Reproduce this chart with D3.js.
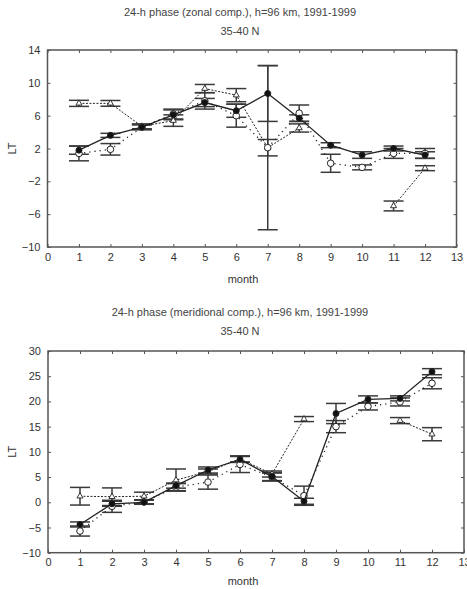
<!DOCTYPE html>
<html>
<head>
<meta charset="utf-8">
<script src="https://cdn.jsdelivr.net/npm/d3@7"></script>
<style>
  body { margin: 0; background: #fff; }
  svg { display: block; font-family: "Liberation Sans", Arial, sans-serif; }
  .tick text { fill: #333; font-size: 11px; }
</style>
</head>
<body>
<div id="container"></div>
<script>
// define constants
const WIDTH = 467;
const HEIGHT = 589;

const months = [1, 2, 3, 4, 5, 6, 7, 8, 9, 10, 11, 12];
const xTicks = [0, 1, 2, 3, 4, 5, 6, 7, 8, 9, 10, 11, 12, 13];

// zonal component
const zonalTicks = [14, 10, 6, 2, -2, -6, -10];
const zonalSolid = [1.8, 3.6, 4.6, 6.1, 7.6, 6.6, 8.7, 5.7, 2.4, 1.2, 2.0, 1.2];
const zonalSolidErr = [0.5, 0.25, 0.3, 0.6, 0.5, 0.8, 3.4, 0.4, 0.3, 0.4, 0.3, 0.4];
const zonalOpen = [1.4, 1.9, 4.6, 6.2, 7.8, 6.0, 2.1, 6.3, 0.2, -0.3, 1.4, 1.4];
const zonalOpenErr = [0.9, 0.7, 0.3, 0.6, 1.0, 1.4, 1.0, 1.0, 1.1, 0.3, 0.6, 0.6];
const zonalTri = [7.5, 7.5, 4.7, 5.4, 9.3, 8.5, 2.1, 4.5, null, null, -5.0, -0.4];
const zonalTriErr = [0.37, 0.35, 0.3, 0.7, 0.5, 0.8, 10, 0.5, null, null, 0.6, 0.3];

// meridional component
const merTicks = [30, 25, 20, 15, 10, 5, 0, -5, -10];
const merSolid = [-4.4, -0.3, 0.0, 3.3, 6.4, 8.5, 5.1, 0.2, 17.6, 20.4, 20.6, 25.9];
const merSolidErr = [0.5, 0.5, 0.4, 0.5, 0.6, 0.6, 0.8, 0.6, 2.0, 0.7, 0.5, 0.6];
const merOpen = [-5.7, -0.8, 0.1, 3.0, 4.0, 7.5, 5.0, 1.3, 15.0, 19.0, 19.9, 23.6];
const merOpenErr = [1.0, 1.2, 0.4, 0.7, 1.4, 1.6, 0.8, 1.9, 1.2, 0.7, 0.8, 1.1];
const merTri = [1.2, 1.1, 1.2, 4.4, 6.1, 8.6, 5.6, 16.5, null, null, 16.2, 13.5];
const merTriErr = [1.75, 1.75, 0.8, 2.2, 0.5, 0.6, 0.6, 0.5, null, null, 0.6, 1.3];

const canvas = d3.select("#container")
    .append("svg")
    .attr("width", WIDTH)
    .attr("height", HEIGHT);

const zip = (vals, errs) => months.map((m, i) => ({ m: m, v: vals[i], e: errs[i] }));

const drawPanel = (p) => {
    const g = canvas.append("g");

    const x = d3.scaleLinear().domain([0, 13]).range([p.left, p.right]);
    const y = d3.scaleLinear().domain([p.yMin, p.yMax]).range([p.bottom, p.top]);

    // titles
    g.append("text").attr("x", 240).attr("y", p.titleY)
        .attr("text-anchor", "middle").attr("font-size", 11).attr("fill", "#444")
        .text(p.title);
    g.append("text").attr("x", 240).attr("y", p.titleY + 19)
        .attr("text-anchor", "middle").attr("font-size", 11).attr("fill", "#444")
        .text("35-40 N");

    // axes with inward ticks
    const axisStyle = (sel) => {
        sel.select(".domain").remove();
        sel.selectAll(".tick line").attr("stroke", "#555");
    };
    g.append("g").attr("transform", "translate(0," + p.bottom + ")")
        .call(d3.axisBottom(x).tickValues(xTicks).tickSize(-3).tickPadding(6).tickFormat(d3.format("d")))
        .call(axisStyle);
    g.append("g").attr("transform", "translate(0," + p.top + ")")
        .call(d3.axisTop(x).tickValues(xTicks).tickSize(-3).tickFormat(""))
        .call(axisStyle);
    g.append("g").attr("transform", "translate(" + p.left + ",0)")
        .call(d3.axisLeft(y).tickValues(p.ticks).tickSize(-3).tickPadding(7).tickFormat(d3.format("d")))
        .call(axisStyle);
    g.append("g").attr("transform", "translate(" + p.right + ",0)")
        .call(d3.axisRight(y).tickValues(p.ticks).tickSize(-3).tickFormat(""))
        .call(axisStyle);
    g.selectAll(".tick text").attr("fill", "#333").attr("font-size", 11);

    g.append("rect")
        .attr("x", p.left).attr("y", p.top)
        .attr("width", p.right - p.left).attr("height", p.bottom - p.top)
        .attr("fill", "none").attr("stroke", "#555").attr("stroke-width", 1.5);

    // axis labels
    g.append("text").attr("x", 243).attr("y", p.bottom + p.labelGap)
        .attr("text-anchor", "middle").attr("font-size", 11).attr("fill", "#333")
        .text("month");
    g.append("text")
        .attr("transform", "translate(16," + ((p.top + p.bottom) / 2) + ") rotate(-90)")
        .attr("text-anchor", "middle").attr("font-size", 11).attr("fill", "#333")
        .text("LT");

    const line = d3.line()
        .defined((d) => d.v != null)
        .x((d) => x(d.m))
        .y((d) => y(d.v));

    const series = [
        { data: zip(p.tri, p.triErr), dash: "2,1.5", width: 1, marker: "tri" },
        { data: zip(p.open, p.openErr), dash: "1.2,4", width: 1.3, marker: "open" },
        { data: zip(p.solid, p.solidErr), dash: null, width: 1.3, marker: "solid" }
    ];

    // error bars
    series.forEach((s) => {
        const pts = s.data.filter((d) => d.v != null);
        const eb = g.append("g").attr("stroke", "#3a3a3a").attr("stroke-width", 1.5);
        eb.selectAll(".v").data(pts).enter().append("line")
            .attr("x1", (d) => x(d.m)).attr("x2", (d) => x(d.m))
            .attr("y1", (d) => y(d.v - d.e)).attr("y2", (d) => y(d.v + d.e));
        [-1, 1].forEach((sign) => {
            eb.selectAll(".c" + sign).data(pts).enter().append("line")
                .attr("x1", (d) => x(d.m) - 10).attr("x2", (d) => x(d.m) + 10)
                .attr("y1", (d) => y(d.v + sign * d.e)).attr("y2", (d) => y(d.v + sign * d.e));
        });
    });

    // lines and markers
    series.forEach((s) => {
        g.append("path").datum(s.data)
            .attr("fill", "none").attr("stroke", "#222")
            .attr("stroke-width", s.width)
            .attr("stroke-dasharray", s.dash)
            .attr("d", line);
        const pts = s.data.filter((d) => d.v != null);
        if (s.marker === "tri") {
            g.selectAll(null).data(pts).enter().append("path")
                .attr("d", d3.symbol().type(d3.symbolTriangle).size(16))
                .attr("transform", (d) => "translate(" + x(d.m) + "," + y(d.v) + ")")
                .attr("fill", "#fff").attr("stroke", "#222").attr("stroke-width", 0.9);
        } else {
            g.selectAll(null).data(pts).enter().append("circle")
                .attr("cx", (d) => x(d.m)).attr("cy", (d) => y(d.v))
                .attr("r", s.marker === "open" ? 3.3 : 3)
                .attr("fill", s.marker === "open" ? "#fff" : "#111")
                .attr("stroke", "#222").attr("stroke-width", 1);
        }
    });
};

drawPanel({
    title: "24-h phase (zonal comp.), h=96 km, 1991-1999",
    titleY: 16,
    left: 47.5, right: 456.5, top: 50, bottom: 247,
    yMin: -10, yMax: 14, ticks: zonalTicks, labelGap: 36,
    solid: zonalSolid, solidErr: zonalSolidErr,
    open: zonalOpen, openErr: zonalOpenErr,
    tri: zonalTri, triErr: zonalTriErr
});

drawPanel({
    title: "24-h phase (meridional comp.), h=96 km, 1991-1999",
    titleY: 316,
    left: 48, right: 464, top: 351, bottom: 552.7,
    yMin: -10, yMax: 30, ticks: merTicks, labelGap: 32,
    solid: merSolid, solidErr: merSolidErr,
    open: merOpen, openErr: merOpenErr,
    tri: merTri, triErr: merTriErr
});
</script>
</body>
</html>
